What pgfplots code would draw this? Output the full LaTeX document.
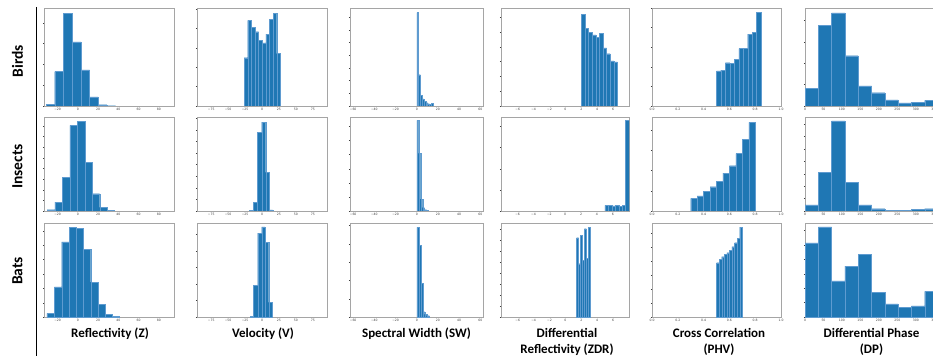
\documentclass[border=0pt]{standalone}
\usepackage{pgfplots}
\pgfplotsset{compat=1.18}
\usepackage{fontspec}
\setmainfont{Carlito}
\newfontfamily\tickf{DejaVu Sans}
\definecolor{mplblue}{HTML}{1F77B4}
\definecolor{edgeblue}{RGB}{95,155,208}
\definecolor{framegray}{RGB}{165,165,165}
\definecolor{tickgray}{RGB}{60,60,60}
\pgfplotsset{
  base/.style={scale only axis, ymin=0,
    axis line style={draw=framegray, line width=0.7pt},
    tick style={draw=tickgray, line width=0.3pt},
    major tick length=1.2pt, tick align=outside,
    xtick pos=bottom, ytick pos=left, yticklabels={},
    xticklabel style={font=\tickf\fontsize{3.1}{3.4}\selectfont, text=tickgray, inner sep=0.6pt},
    clip=true},
  pos/.style 2 args={at={(#1pt,#2pt)}, anchor=south west},
  r1/.style={height=98pt}, r2/.style={height=94pt}, r3/.style={height=94pt},
  cZ/.style={width=129.5pt, xmin=-33, xmax=95, xtick={-20,0,20,40,60,80}, xticklabels={−20,0,20,40,60,80}},
  cV/.style={width=130pt, xmin=-96, xmax=96, xtick={-75,-50,-25,0,25,50,75}, xticklabels={−75,−50,−25,0,25,50,75}},
  cSW/.style={width=133.5pt, xmin=-63, xmax=63, xtick={-60,-40,-20,0,20,40,60}, xticklabels={−60,−40,−20,0,20,40,60}},
  cZDR/.style={width=128pt, xmin=-8.1, xmax=8.0, xtick={-6,-4,-2,0,2,4,6}, xticklabels={−6,−4,−2,0,2,4,6}},
  cPHV/.style={width=129pt, xmin=0, xmax=1, xtick={0,0.2,0.4,0.6,0.8,1}, xticklabels={0.0,0.2,0.4,0.6,0.8,1.0}},
  cDP/.style={width=133pt, xmin=0, xmax=360, xtick={0,50,100,150,200,250,300,350}, xticklabels={0,50,100,150,200,250,300,350}},
  bars/.style={ybar interval, fill=mplblue, draw=edgeblue, line width=0.25pt},
}
\begin{document}
\begin{tikzpicture}
\useasboundingbox (0pt,0pt) rectangle (933pt,356pt);
\clip (0pt,0pt) rectangle (933pt,356pt);

% ---------------- Row 1 : Birds ----------------
\begin{axis}[base, r1, cZ, pos={44.5}{250}, ymax=290, ytick distance=61.5]
\addplot[bars] coordinates {(-31.5,5) (-22.9,102) (-14.3,275) (-5.7,190) (2.9,107) (11.5,27) (20.1,4) (28.7,1) (37.3,0)};
\end{axis}
\begin{axis}[base, r1, cV, pos={197}{250}, ymax=290, ytick distance=57.5]
\addplot[bars] coordinates {(-26.5,143) (-21.15,253) (-15.8,233) (-10.45,220) (-5.1,195) (0.25,187) (5.6,213) (10.95,257) (16.3,275) (21.65,155) (27,0)};
\end{axis}
\begin{axis}[base, r1, cSW, pos={350}{250}, ymax=300, ytick distance=38.8]
\addplot[bars] coordinates {(0,286) (1.7,96) (3.4,33) (5.1,22) (6.8,15) (8.5,10) (10.2,7) (11.9,5) (13.6,9) (15.3,0)};
\end{axis}
\begin{axis}[base, r1, cZDR, pos={501}{250}, ymax=300, ytick distance=45.3]
\addplot[bars] coordinates {(2,280) (2.455,238) (2.91,226) (3.365,218) (3.82,211) (4.275,223) (4.73,178) (5.185,160) (5.64,138) (6.095,135) (6.55,0)};
\end{axis}
\begin{axis}[base, r1, cPHV, pos={652}{250}, ymax=285, ytick distance=57]
\addplot[bars] coordinates {(0.5,102) (0.5345,104) (0.569,126) (0.6035,124) (0.638,135) (0.6725,167) (0.707,167) (0.7415,209) (0.776,215) (0.8105,272) (0.845,0)};
\end{axis}
\begin{axis}[base, r1, cDP, pos={805}{250}, ymax=302, ytick distance=66]
\addplot[bars] coordinates {(0,54) (36,249) (72,287) (108,155) (144,62) (180,41) (216,19) (252,10) (288,12) (324,17) (360,0)};
\end{axis}

% ---------------- Row 2 : Insects ----------------
\begin{axis}[base, r2, cZ, pos={44.5}{145}, ymax=283, ytick distance=32]
\addplot[bars] coordinates {(-30.5,4) (-22.8,27) (-15.2,101) (-7.9,258) (-0.3,270) (7.0,146) (14.2,52) (21.5,11) (28.8,2) (36.1,0)};
\end{axis}
\begin{axis}[base, r2, cV, pos={197}{145}, ymax=280, ytick distance=34.6]
\addplot[bars] coordinates {(-18.6,2) (-12.7,25) (-6.9,235) (-0.5,265) (5.4,115) (10.8,3) (15.7,0)};
\end{axis}
\begin{axis}[base, r2, cSW, pos={350}{145}, ymax=280, ytick distance=42]
\addplot[bars] coordinates {(0,270) (1.85,172) (3.7,35) (5.55,10) (7.4,4) (9.25,2) (11.1,0)};
\end{axis}
\begin{axis}[base, r2, cZDR, pos={501}{145}, xmax=8.05, ymax=280, ytick distance=63]
\addplot[bars] coordinates {(5.02,17) (5.45,17) (5.89,15) (6.32,17) (6.75,14) (7.19,17) (7.62,270) (8.05,0)};
\end{axis}
\begin{axis}[base, r2, cPHV, pos={652}{145}, ymax=278, ytick distance=60]
\addplot[bars] coordinates {(0.3,37) (0.35,45) (0.4,58) (0.45,72) (0.5,88) (0.55,112) (0.6,134) (0.65,170) (0.7,212) (0.75,262) (0.8,0)};
\end{axis}
\begin{axis}[base, r2, cDP, pos={805}{145}, ymax=292, ytick distance=38.5]
\addplot[bars] coordinates {(0,19) (36,120) (72,280) (108,90) (144,19) (180,7) (216,3) (252,3) (288,5) (324,7) (360,0)};
\end{axis}

% ---------------- Row 3 : Bats ----------------
\begin{axis}[base, r3, cZ, pos={44.5}{39}, ymax=285, ytick distance=43.5]
\addplot[bars] coordinates {(-30.7,11) (-23.3,91) (-16,228) (-8.7,271) (-1.3,269) (5.3,206) (12.7,106) (20,39) (27,8) (34.3,2) (41,0)};
\end{axis}
\begin{axis}[base, r3, cV, pos={197}{39}, ymax=285, ytick distance=50]
\addplot[bars] coordinates {(-17.7,3) (-12.8,96) (-6.4,254) (-0.5,273) (4.4,226) (9.9,44) (15.3,0)};
\end{axis}
\begin{axis}[base, r3, cSW, pos={350}{39}, ymax=282, ytick distance=55]
\addplot[bars] coordinates {(0,269) (1.9,216) (3.8,101) (5.7,16) (7.5,8) (9.4,4) (11.9,0)};
\end{axis}
\begin{axis}[base, r3, cZDR, pos={501}{39}, ymax=282, ytick distance=33]
\addplot[bars] coordinates {(1.4,238) (1.65,160) (1.9,245) (2.15,170) (2.4,265) (2.65,176) (2.85,270) (3.1,0)};
\end{axis}
\begin{axis}[base, r3, cPHV, pos={652}{39}, ymax=282, ytick distance=42]
\addplot[bars] coordinates {(0.5,163) (0.52,173) (0.54,181) (0.56,188) (0.58,193) (0.6,201) (0.62,211) (0.64,223) (0.66,236) (0.68,270) (0.7,0)};
\end{axis}
\begin{axis}[base, r3, cDP, pos={805}{39}, ymax=287, ytick distance=44]
\addplot[bars] coordinates {(0,226) (36,275) (72,110) (108,155) (144,191) (180,75) (216,40) (252,30) (288,34) (324,78) (360,0)};
\end{axis}

% ---------------- Labels ----------------
\draw[line width=1.3pt] (36.7pt,349pt) -- (36.7pt,0pt);
\begin{scope}[every node/.style={font=\fontsize{15.5}{18}\selectfont\bfseries, inner sep=0pt}]
\node[rotate=90] at (17.5pt,295pt) {Birds};
\node[rotate=90] at (17.5pt,189.5pt) {Insects};
\node[rotate=90] at (17.5pt,85pt) {Bats};
\end{scope}
\begin{scope}[every node/.style={font=\fontsize{13}{15}\selectfont\bfseries, inner sep=0pt, anchor=base}]
\node at (110pt,18.3pt) {Reflectivity (Z)};
\node at (263pt,18.3pt) {Velocity (V)};
\node at (416.5pt,18.3pt) {Spectral Width (SW)};
\node at (567pt,18.3pt) {Differential};
\node at (567pt,3pt) {Reflectivity (ZDR)};
\node at (719pt,18.3pt) {Cross Correlation};
\node at (719pt,3pt) {(PHV)};
\node at (871.5pt,18.3pt) {Differential Phase};
\node at (871.5pt,3pt) {(DP)};
\end{scope}
\end{tikzpicture}
\end{document}
